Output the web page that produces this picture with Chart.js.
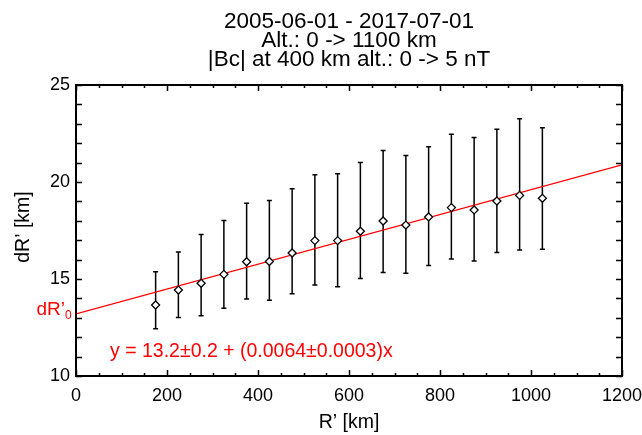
<!DOCTYPE html>
<html>
<head>
<meta charset="utf-8">
<script src="https://cdn.jsdelivr.net/npm/chart.js@4/dist/chart.umd.min.js"></script>
<style>
  html, body { margin: 0; padding: 0; background: #fff; }
</style>
</head>
<body>
<canvas id="chart" width="642" height="435"></canvas>
<script>
// R' bin centres [km]
const radius = [175, 225, 275, 325, 375, 425, 475, 525, 575, 625, 675, 725, 775, 825, 875, 925, 975, 1025];
// dR' mean and error bar ends [km]
const dR      = [13.66, 14.43, 14.78, 15.24, 15.89, 15.90, 16.34, 16.98, 16.98, 17.46, 17.99, 17.78, 18.20, 18.68, 18.56, 19.02, 19.31, 19.16];
const errLow  = [12.44, 13.01, 13.11, 13.49, 13.97, 13.90, 14.24, 14.69, 14.60, 15.02, 15.34, 15.29, 15.69, 16.03, 15.93, 16.36, 16.49, 16.53];
const errHigh = [15.38, 16.39, 17.29, 18.01, 18.90, 19.04, 19.65, 20.38, 20.43, 21.00, 21.63, 21.37, 21.82, 22.46, 22.29, 22.72, 23.26, 22.80];
// linear fit
const fitIntercept = 13.2;
const fitSlope = 0.0064;
const fitRange = [0, 1200];

const titleLines = ['2005-06-01 - 2017-07-01', 'Alt.: 0 -> 1100 km', '|Bc| at 400 km alt.: 0 -> 5 nT'];
const fitText = 'y = 13.2\u00b10.2 + (0.0064\u00b10.0003)x';

const FONT = '"Liberation Sans", Arial, Helvetica, sans-serif';

const framePlugin = {
  id: 'frame',
  beforeDatasetsDraw(chart) {
    const ctx = chart.ctx, x = chart.scales.x, y = chart.scales.y;
    // error bars
    ctx.save();
    ctx.strokeStyle = '#000';
    ctx.lineWidth = 1.5;
    radius.forEach((r, i) => {
      const px = x.getPixelForValue(r);
      const lo = y.getPixelForValue(errLow[i]);
      const hi = y.getPixelForValue(errHigh[i]);
      ctx.beginPath();
      ctx.moveTo(px, lo); ctx.lineTo(px, hi);
      ctx.moveTo(px - 2.5, lo); ctx.lineTo(px + 2.5, lo);
      ctx.moveTo(px - 2.5, hi); ctx.lineTo(px + 2.5, hi);
      ctx.stroke();
    });
    ctx.restore();
  },
  afterDraw(chart) {
    const ctx = chart.ctx, x = chart.scales.x, y = chart.scales.y;
    const a = chart.chartArea;
    ctx.save();
    ctx.strokeStyle = '#000';
    ctx.lineWidth = 1.5;
    ctx.beginPath();
    // inward ticks
    for (let v = 0; v <= 1200; v += 50) {
      const px = Math.round(x.getPixelForValue(v)) + 0.5;
      const len = v % 200 === 0 ? 6 : 3;
      ctx.moveTo(px, a.bottom); ctx.lineTo(px, a.bottom - len);
      ctx.moveTo(px, a.top); ctx.lineTo(px, a.top + len);
    }
    for (let v = 10; v <= 25; v += 1) {
      const py = Math.round(y.getPixelForValue(v)) + 0.5;
      ctx.moveTo(a.left, py); ctx.lineTo(a.left + 6, py);
      ctx.moveTo(a.right, py); ctx.lineTo(a.right - 6, py);
    }
    ctx.stroke();
    ctx.lineWidth = 2;
    ctx.strokeRect(a.left, a.top, a.right - a.left, a.bottom - a.top);

    // title
    ctx.fillStyle = '#000';
    ctx.textAlign = 'center';
    ctx.textBaseline = 'alphabetic';
    ctx.font = '22.5px ' + FONT;
    const cx = (a.left + a.right) / 2;
    [27.5, 46.5, 65.5].forEach((b, i) => ctx.fillText(titleLines[i], cx, b));

    // axis titles
    ctx.font = '19.5px ' + FONT;
    ctx.fillText('R\u2019 [km]', cx, 428);
    ctx.save();
    ctx.translate(29, 227);
    ctx.rotate(-Math.PI / 2);
    ctx.fillText('dR\u2019 [km]', 0, 0);
    ctx.restore();

    // fit annotation
    ctx.fillStyle = '#ff0000';
    ctx.textAlign = 'left';
    ctx.font = '19.5px ' + FONT;
    ctx.fillText(fitText, 110, 357);
    ctx.textAlign = 'right';
    ctx.font = '19px ' + FONT;
    ctx.fillText('dR\u2019', 65, 315);
    ctx.textAlign = 'left';
    ctx.font = '12px ' + FONT;
    ctx.fillText('0', 65, 319);
    ctx.restore();
  }
};

new Chart(document.getElementById('chart'), {
  type: 'scatter',
  data: {
    datasets: [
      {
        label: 'fit',
        type: 'line',
        data: fitRange.map(r => ({ x: r, y: fitIntercept + fitSlope * r })),
        borderColor: '#ff0000',
        borderWidth: 1.3,
        pointRadius: 0,
        order: 2
      },
      {
        label: "dR'",
        data: radius.map((r, i) => ({ x: r, y: dR[i] })),
        pointStyle: 'rectRot',
        pointRadius: 4,
        backgroundColor: '#fff',
        borderColor: '#000',
        borderWidth: 1.3,
        order: 1
      }
    ]
  },
  options: {
    responsive: false,
    animation: false,
    layout: { padding: { top: 85, right: 20, left: 0, bottom: 0 } },
    scales: {
      x: {
        type: 'linear', min: 0, max: 1200,
        grid: { display: false, drawTicks: false },
        border: { display: false },
        ticks: { stepSize: 200, padding: 9, color: '#000', font: { size: 18, family: FONT },
                 callback: v => String(v) },
        afterFit: s => { s.height = 59; s.paddingLeft = 0; s.paddingRight = 0; }
      },
      y: {
        min: 10, max: 25,
        grid: { display: false, drawTicks: false },
        border: { display: false },
        ticks: { stepSize: 5, padding: 6, color: '#000', font: { size: 18, family: FONT } },
        afterFit: s => { s.width = 76; s.paddingTop = 0; s.paddingBottom = 0; }
      }
    },
    plugins: {
      legend: { display: false },
      tooltip: { enabled: false }
    }
  },
  plugins: [framePlugin]
});
</script>
</body>
</html>
